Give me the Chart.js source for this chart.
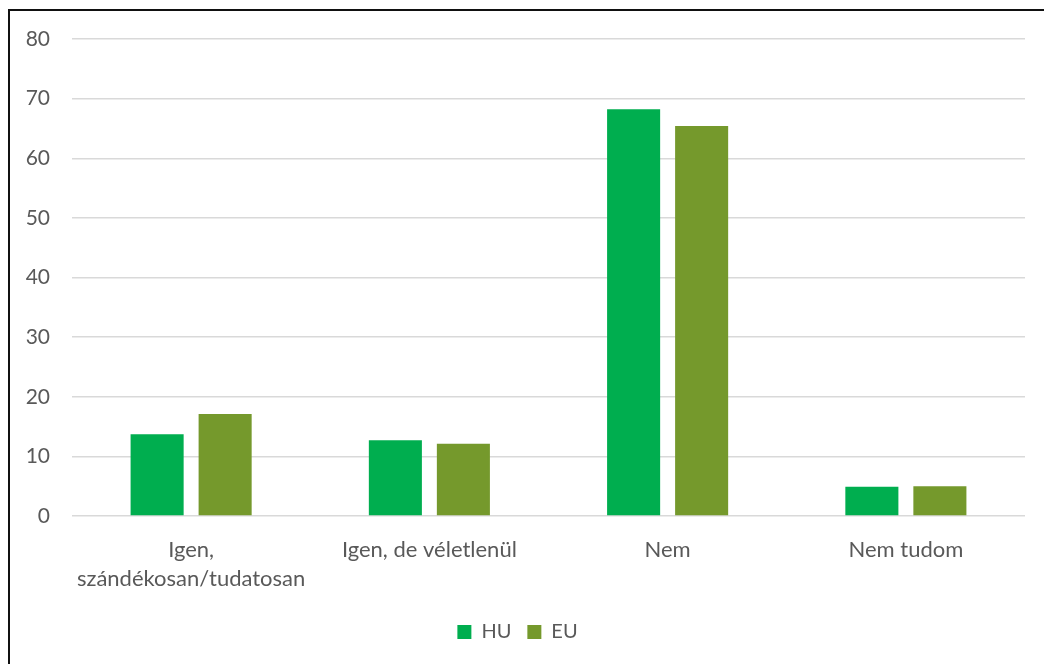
<!DOCTYPE html>
<html lang="hu">
<head>
<meta charset="utf-8">
<title>HU / EU</title>
<script src="https://cdn.jsdelivr.net/npm/chart.js@4.4.1/dist/chart.umd.min.js"></script>
<style>
  html, body { margin: 0; padding: 0; background: #fff; overflow: hidden; }
  body { width: 1044px; height: 664px; position: relative; }
  .frame {
    position: absolute; left: 8px; top: 9px;
    width: 1100px; height: 700px;
    border: 2px solid #111;
    box-sizing: border-box;
  }
  .wrap { position: absolute; left: 0; top: 0; width: 1044px; height: 664px; }
</style>
</head>
<body>
<div class="frame"></div>
<div class="wrap"><canvas id="chart"></canvas></div>
<script>
  // kategóriák és értékek (%)
  const categories = [
    ["Igen,", "szándékosan/tudatosan"],
    "Igen, de véletlenül",
    "Nem",
    "Nem tudom",
  ];
  const huValues = [13.7, 12.7, 68.2, 4.9];
  const euValues = [17.1, 12.1, 65.4, 5.0];
  const yTicks = [0, 10, 20, 30, 40, 50, 60, 70, 80];

  const FONT = "Lato, 'Open Sans', sans-serif";
  const TEXT = "#595959";

  new Chart(document.getElementById("chart"), {
    type: "bar",
    data: {
      labels: categories,
      datasets: [
        {
          label: "HU",
          data: huValues,
          backgroundColor: "#00ae4f",
          categoryPercentage: 0.571,
          barPercentage: 0.78,
        },
        {
          label: "EU",
          data: euValues,
          backgroundColor: "#75992c",
          categoryPercentage: 0.571,
          barPercentage: 0.78,
        },
      ],
    },
    options: {
      responsive: true,
      maintainAspectRatio: false,
      animation: false,
      layout: { padding: { left: 10, right: 19, top: 39, bottom: 12 } },
      plugins: {
        tooltip: { enabled: false },
        legend: {
          position: "bottom",
          labels: {
            boxWidth: 14,
            boxHeight: 14,
            padding: 16,
            color: TEXT,
            font: { family: FONT, size: 20 },
          },
        },
      },
      scales: {
        x: {
          grid: { display: false },
          border: { display: false },
          ticks: {
            color: TEXT,
            maxRotation: 0,
            autoSkip: false,
            padding: 12,
            font: { family: FONT, size: 22, lineHeight: 1.3 },
          },
          afterFit: (scale) => { scale.height = 90; },
        },
        y: {
          min: 0,
          max: 80,
          afterBuildTicks: (scale) => {
            scale.ticks = yTicks.map((v) => ({ value: v }));
          },
          grid: { color: "#d9d9d9", lineWidth: 1.5, drawTicks: false },
          border: { display: false },
          ticks: {
            color: TEXT,
            padding: 22,
            font: { family: FONT, size: 21 },
          },
          afterFit: (scale) => { scale.width = 62; },
        },
      },
    },
  });
</script>
</body>
</html>
